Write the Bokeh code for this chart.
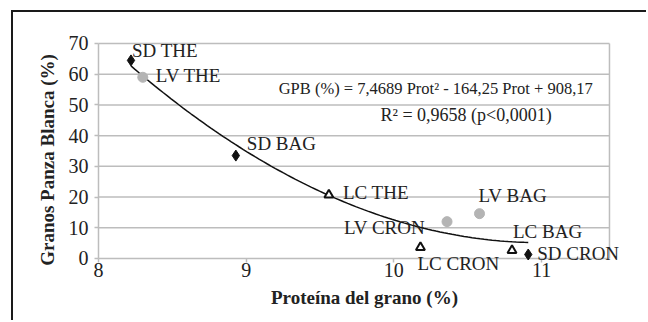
import numpy as np
from bokeh.plotting import figure
from bokeh.models import Range1d, FixedTicker, Label
from bokeh.embed import file_html
from bokeh.resources import INLINE

# ---- data ----
names = ["SD  THE", "LV  THE", "SD  BAG", "LC  THE", "LV CRON", "LV BAG", "LC CRON", "LC  BAG", "SD  CRON"]
protein = [8.22, 8.30, 8.93, 9.56, 10.36, 10.58, 10.18, 10.80, 10.91]
gpb = [64.5, 59.0, 33.5, 20.7, 12.0, 14.6, 3.6, 2.6, 1.3]
group = ["SD", "LV", "SD", "LC", "LV", "LV", "LC", "LC", "SD"]
# label offsets (px) relative to each point
lab_dx = [1, 13, 11, 14, -22, -1, -3, 1, 9]
lab_dy = [10, 2, 12, 2, -6, 18, -16, 19, 1]
lab_align = ["left", "left", "left", "left", "right", "left", "left", "left", "left"]

coef = [7.4689, -164.25, 908.17]
fit_range = [8.22, 10.91]
x_ticks = [8, 9, 10, 11]
y_ticks = [0, 10, 20, 30, 40, 50, 60, 70]
x_min, x_max = 8, 11.46
y_min, y_max = 0, 70

FONT = "'Liberation Serif', serif"
TXT = "#222222"
GRID = "#bdbdbd"

# frame covers the whole canvas so that labels and axes are not clipped;
# the axes are pinned at x=8 and y=0
p = figure(width=635, height=310, output_backend="svg", toolbar_location=None,
           x_range=Range1d(7.4245, 11.643), y_range=Range1d(-20.84, 80.093),
           min_border_left=0, min_border_right=12, min_border_top=0, min_border_bottom=0)
p.margin = (10, 0, 0, 11)
p.styles = {"border-top": "2px solid #1a1a1a", "border-left": "2px solid #1a1a1a"}
p.background_fill_color = "white"
p.border_fill_color = "white"
p.outline_line_color = None
p.xgrid.grid_line_color = None
p.ygrid.grid_line_color = None

# gridlines and box drawn through the data scales
p.segment(x0=[x_min] * len(y_ticks), x1=[x_max] * len(y_ticks), y0=y_ticks, y1=y_ticks,
          line_color=GRID, line_width=1.5)
p.segment(x0=[x_min, x_max], x1=[x_min, x_max], y0=[y_min, y_min], y1=[y_max, y_max],
          line_color=GRID, line_width=1.5)

p.xaxis.ticker = FixedTicker(ticks=x_ticks)
p.yaxis.ticker = FixedTicker(ticks=y_ticks)
p.xaxis.fixed_location = 0
p.yaxis.fixed_location = 8
p.xaxis.bounds = (8, 11.6)
p.yaxis.bounds = (-6, 70)
for ax in (p.xaxis[0], p.yaxis[0]):
    ax.axis_line_color = None
    ax.major_tick_line_color = GRID
    ax.major_tick_line_width = 1.5
    ax.major_tick_out = 4
    ax.major_tick_in = 0
    ax.minor_tick_line_color = None
    ax.major_label_text_font = FONT
    ax.major_label_text_font_size = "20px"
    ax.major_label_text_color = TXT
    ax.axis_label_text_font = FONT
    ax.axis_label_text_font_size = "19px"
    ax.axis_label_text_font_style = "bold"
    ax.axis_label_text_color = TXT
p.xaxis.axis_label = "Proteína del grano (%)"
p.yaxis.axis_label = "Granos Panza Blanca (%)"
p.xaxis.major_label_standoff = 1
p.yaxis.major_label_standoff = 6
p.xaxis.axis_label_standoff = 6
p.yaxis.axis_label_standoff = 8

# trend line from the fitted equation
xs = np.linspace(fit_range[0], fit_range[1], 100)
ys = np.polyval(coef, xs)
p.line(xs, ys, line_color="#111111", line_width=1.5)

def sub(g):
    idx = [i for i, v in enumerate(group) if v == g]
    return dict(x=[protein[i] for i in idx], y=[gpb[i] for i in idx])

p.scatter("x", "y", source=sub("LV"), marker="circle", size=10, fill_color="#b4b4b4", line_color="#b4b4b4")
p.scatter("x", "y", source=sub("SD"), marker="diamond", size=11, fill_color="#111111", line_color="#111111")
p.scatter("x", "y", source=sub("LC"), marker="triangle", size=9, fill_color="white", line_color="#111111", line_width=2)

for n, x, y, dx, dy, al in zip(names, protein, gpb, lab_dx, lab_dy, lab_align):
    p.add_layout(Label(x=x, y=y, text=n, x_offset=dx, y_offset=dy, text_align=al,
                       text_baseline="middle", text_font=FONT, text_font_size="19px",
                       text_color=TXT))

p.add_layout(Label(x=9.22, y=55.4, text="GPB (%) = 7,4689 Prot² - 164,25 Prot + 908,17",
                   text_font=FONT, text_font_size="16.5px", text_baseline="middle", text_color=TXT))
p.add_layout(Label(x=9.91, y=46.6, text="R² = 0,9658 (p<0,0001)",
                   text_font=FONT, text_font_size="18px", text_baseline="middle", text_color=TXT))

open("out.html", "w").write(file_html(p, INLINE))
